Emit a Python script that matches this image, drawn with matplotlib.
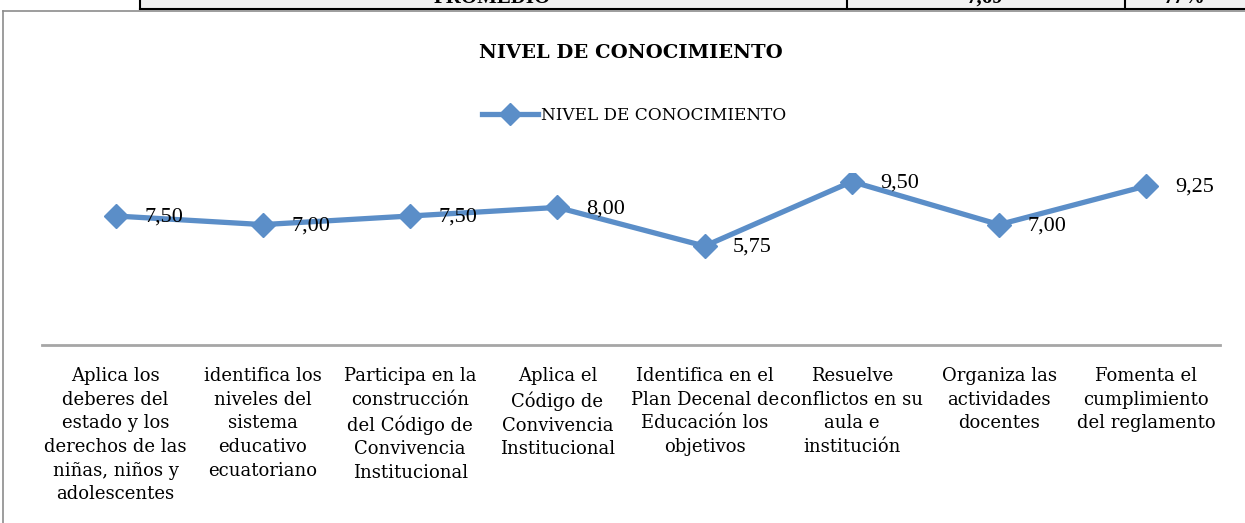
import matplotlib.pyplot as plt
from matplotlib.lines import Line2D
from matplotlib.patches import Rectangle

# Data
categorias = [
    "Aplica los\ndeberes del\nestado y los\nderechos de las\nniñas, niños y\nadolescentes",
    "identifica los\nniveles del\nsistema\neducativo\necuatoriano",
    "Participa en la\nconstrucción\ndel Código de\nConvivencia\nInstitucional",
    "Aplica el\nCódigo de\nConvivencia\nInstitucional",
    "Identifica en el\nPlan Decenal de\nEducación los\nobjetivos",
    "Resuelve\nconflictos en su\naula e\ninstitución",
    "Organiza las\nactividades\ndocentes",
    "Fomenta el\ncumplimiento\ndel reglamento",
]
valores = [7.50, 7.00, 7.50, 8.00, 5.75, 9.50, 7.00, 9.25]
serie = "NIVEL DE CONOCIMIENTO"
tabla = ["PROMEDIO", "7,69", "77%"]

plt.rcParams['font.family'] = ['DejaVu Serif']
times = ['Liberation Serif', 'DejaVu Serif']
azul = "#5b8ec8"

fig = plt.figure(figsize=(12.45, 5.23), dpi=100)
W, H = 1245, 523

# fragment of the table above the chart
fig.patches.append(Rectangle((140 / W, 1 - 9 / H), 1.0, 0.05, transform=fig.transFigure,
                             facecolor="#f2f2f2", edgecolor="none"))
fig.add_artist(Line2D([140 / W, 1], [1 - 9 / H] * 2, color="black", lw=1.5))
for xv in [140, 847, 1125]:
    fig.add_artist(Line2D([xv / W] * 2, [1 - 9 / H, 1], color="black", lw=1.5))
for txt, xc in zip(tabla, [492, 985, 1185]):
    fig.text(xc / W, 1 + 2 / H, txt, ha="center", va="center", fontsize=15,
             fontweight="bold", family=times, clip_on=False)

# chart area border
fig.add_artist(Line2D([3 / W, 3 / W], [0, 1 - 11 / H], color="#8c8c8c", lw=1.2))
fig.add_artist(Line2D([3 / W, 1], [1 - 11 / H] * 2, color="#8c8c8c", lw=1.2))

ax = fig.add_axes([42 / W, 1 - 345 / H, (1220 - 42) / W, (345 - 173) / H])
x = list(range(len(valores)))
ax.plot(x, valores, color=azul, lw=3.8, marker="D", markersize=12,
        markeredgecolor=azul, label=serie)
ax.set_xlim(-0.5, len(valores) - 0.5)
ax.set_ylim(0, 10)

for i, v in enumerate(valores):
    ax.annotate(f"{v:.2f}".replace(".", ","), (i, v), xytext=(20.5, -1),
                textcoords="offset points", ha="left", va="center",
                fontsize=16, family=times)

for s in ["top", "right", "left"]:
    ax.spines[s].set_visible(False)
ax.spines["bottom"].set_color("#a6a6a6")
ax.spines["bottom"].set_linewidth(2)
ax.set_yticks([])
ax.set_xticks(x)
ax.set_xticklabels(categorias, fontsize=13, linespacing=1.4, va="top")
ax.tick_params(axis="x", length=0, pad=16)

fig.text(631 / W, 1 - 53 / H, "NIVEL DE CONOCIMIENTO", ha="center", va="center",
         fontsize=14, fontweight="bold")

fig.legend(handles=[Line2D([], [], color=azul, lw=3.8, marker="D", markersize=11)],
           labels=[serie], loc="center", bbox_to_anchor=(634 / W, 1 - 115 / H),
           frameon=False, fontsize=12.2, handlelength=3.3, handletextpad=0.15)

fig.savefig("out.png", dpi=100)
